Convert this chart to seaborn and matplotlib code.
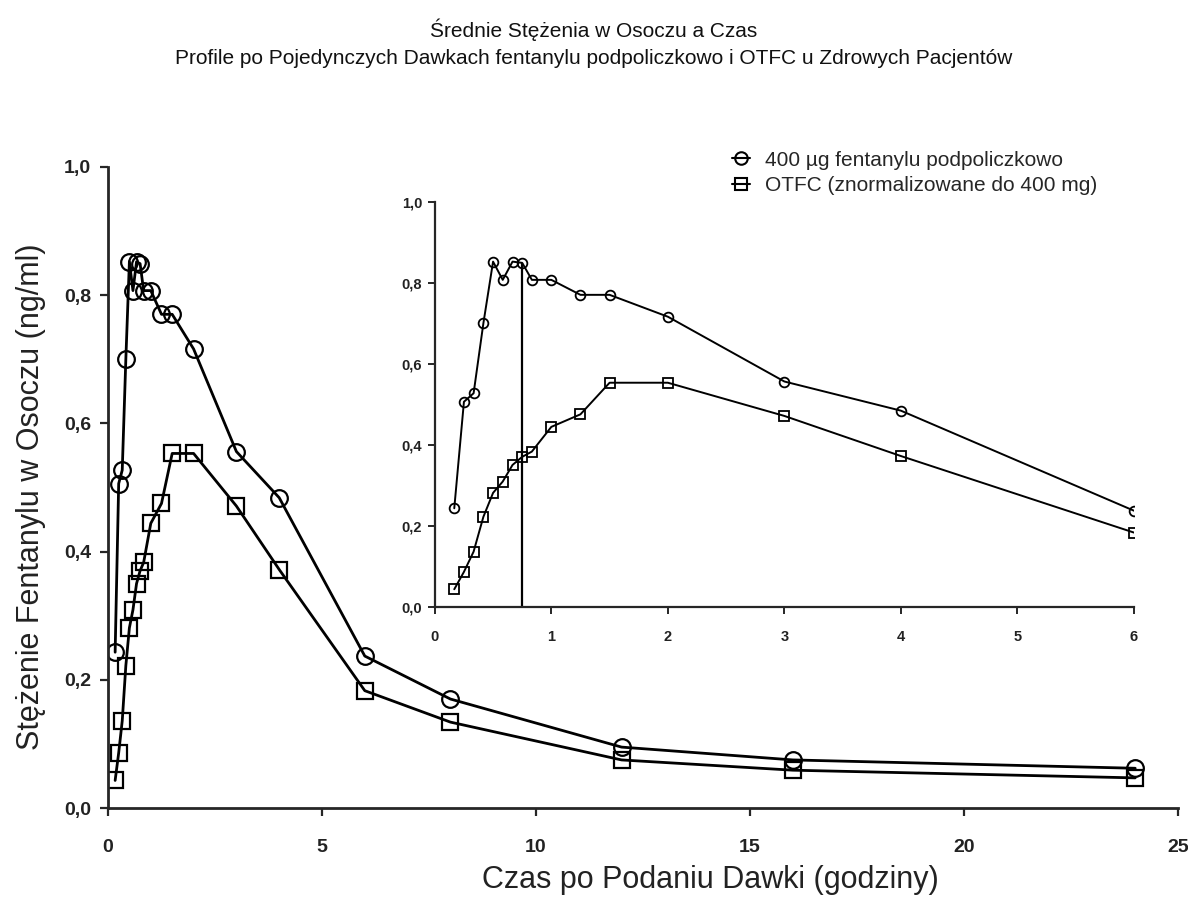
import matplotlib
matplotlib.use("Agg")
import matplotlib.pyplot as plt
from matplotlib.lines import Line2D
from matplotlib.ticker import FuncFormatter
import seaborn as sns
import pandas as pd

# ---- data ----
time_h = [0.167, 0.25, 0.333, 0.417, 0.5, 0.583, 0.667, 0.75, 0.833, 1.0, 1.25, 1.5, 2.0, 3.0, 4.0, 6.0, 8.0, 12.0, 16.0, 24.0]
buccal = [0.243, 0.506, 0.527, 0.700, 0.852, 0.807, 0.852, 0.849, 0.807, 0.807, 0.770, 0.770, 0.716, 0.556, 0.484, 0.237, 0.170, 0.095, 0.075, 0.062]
otfc = [0.043, 0.086, 0.136, 0.222, 0.281, 0.309, 0.350, 0.370, 0.383, 0.444, 0.475, 0.553, 0.553, 0.471, 0.372, 0.183, 0.134, 0.075, 0.059, 0.047]
tmax = 0.75
cmax = 0.849

title_line1 = "Średnie Stężenia w Osoczu a Czas"
title_line2 = "Profile po Pojedynczych Dawkach fentanylu podpoliczkowo i OTFC u Zdrowych Pacjentów"
xlabel = "Czas po Podaniu Dawki (godziny)"
ylabel = "Stężenie Fentanylu w Osoczu (ng/ml)"
label_buccal = "400 µg fentanylu podpoliczkowo"
label_otfc = "OTFC (znormalizowane do 400 mg)"
main_xticks = [0, 5, 10, 15, 20, 25]
yticks = [0.0, 0.2, 0.4, 0.6, 0.8, 1.0]
inset_xticks = [0, 1, 2, 3, 4, 5, 6]
inset_max_t = 6.0

df = pd.DataFrame({"t": time_h, "buccal": buccal, "otfc": otfc})
dfi = df[df["t"] <= inset_max_t]

sns.set_style("ticks")
plt.rcParams["font.family"] = ["Liberation Sans", "DejaVu Sans"]

fig = plt.figure(figsize=(11.88, 8.98), dpi=100)
ax = fig.add_axes([0.0909, 0.1002, 0.9007, 0.714])

comma = FuncFormatter(lambda v, p: f"{v:.1f}".replace(".", ","))

def draw(a, d, ms, lw, mew):
    sns.lineplot(data=d, x="t", y="buccal", ax=a, color="black", lw=lw,
                 marker="o", markersize=ms, markerfacecolor="none",
                 markeredgecolor="black", markeredgewidth=mew, estimator=None)
    sns.lineplot(data=d, x="t", y="otfc", ax=a, color="black", lw=lw,
                 marker="s", markersize=ms, markerfacecolor="none",
                 markeredgecolor="black", markeredgewidth=mew, estimator=None)

draw(ax, df, 12, 2.0, 1.6)
ax.set_xlim(0, 25)
ax.set_ylim(0, 1.0)
ax.set_xticks(main_xticks)
ax.set_yticks(yticks)
ax.yaxis.set_major_formatter(comma)
sns.despine(ax=ax)
for s in ["left", "bottom"]:
    ax.spines[s].set_linewidth(2.0)
ax.tick_params(width=1.6, length=6, labelsize=14, direction="out")
ax.tick_params(axis="x", pad=16)
ax.tick_params(axis="y", pad=6)
for lab in ax.get_xticklabels() + ax.get_yticklabels():
    lab.set_fontweight("bold")
    lab.set_color("#222222")
ax.set_xlabel(xlabel, fontsize=22, color="#222222")
ax.set_ylabel(ylabel, fontsize=22, color="#222222")
ax.xaxis.set_label_coords(0.563, -0.112)
ax.xaxis.label.set_va("center")
ax.yaxis.set_label_coords(-0.072, 0.485)
ax.yaxis.label.set_va("center")

# inset
axi = fig.add_axes([0.366, 0.3244, 0.5885, 0.451])
draw(axi, dfi, 7, 1.4, 1.3)
axi.vlines(tmax, 0, cmax, color="black", lw=1.6)
axi.set_xlim(0, 6)
axi.set_ylim(0, 1.0)
axi.set_xticks(inset_xticks)
axi.set_yticks(yticks)
axi.yaxis.set_major_formatter(comma)
sns.despine(ax=axi)
axi.patch.set_alpha(0)
for s in ["left", "bottom"]:
    axi.spines[s].set_linewidth(1.6)
axi.tick_params(width=1.4, length=5, labelsize=10.5, direction="out")
axi.tick_params(axis="x", pad=12)
axi.tick_params(axis="y", pad=4)
for lab in axi.get_xticklabels() + axi.get_yticklabels():
    lab.set_fontweight("bold")
    lab.set_color("#222222")
axi.set_xlabel("")
axi.set_ylabel("")

handles = [
    Line2D([], [], color="black", lw=1.5, marker="o", markersize=9, mfc="none", mec="black", mew=1.5),
    Line2D([], [], color="black", lw=1.5, marker="s", markersize=9, mfc="none", mec="black", mew=1.5),
]
fig.legend(handles, [label_buccal, label_otfc], loc="upper left",
           bbox_to_anchor=(0.600, 0.853), frameon=False, fontsize=15,
           handlelength=0.9, handletextpad=0.7, labelspacing=0.3)

fig.text(0.5, 1 - 30 / 898, title_line1, ha="center", va="center", fontsize=15, color="#111111")
fig.text(0.5, 1 - 58 / 898, title_line2, ha="center", va="center", fontsize=15, color="#111111")

fig.savefig("out.png", dpi=100, facecolor="white")
